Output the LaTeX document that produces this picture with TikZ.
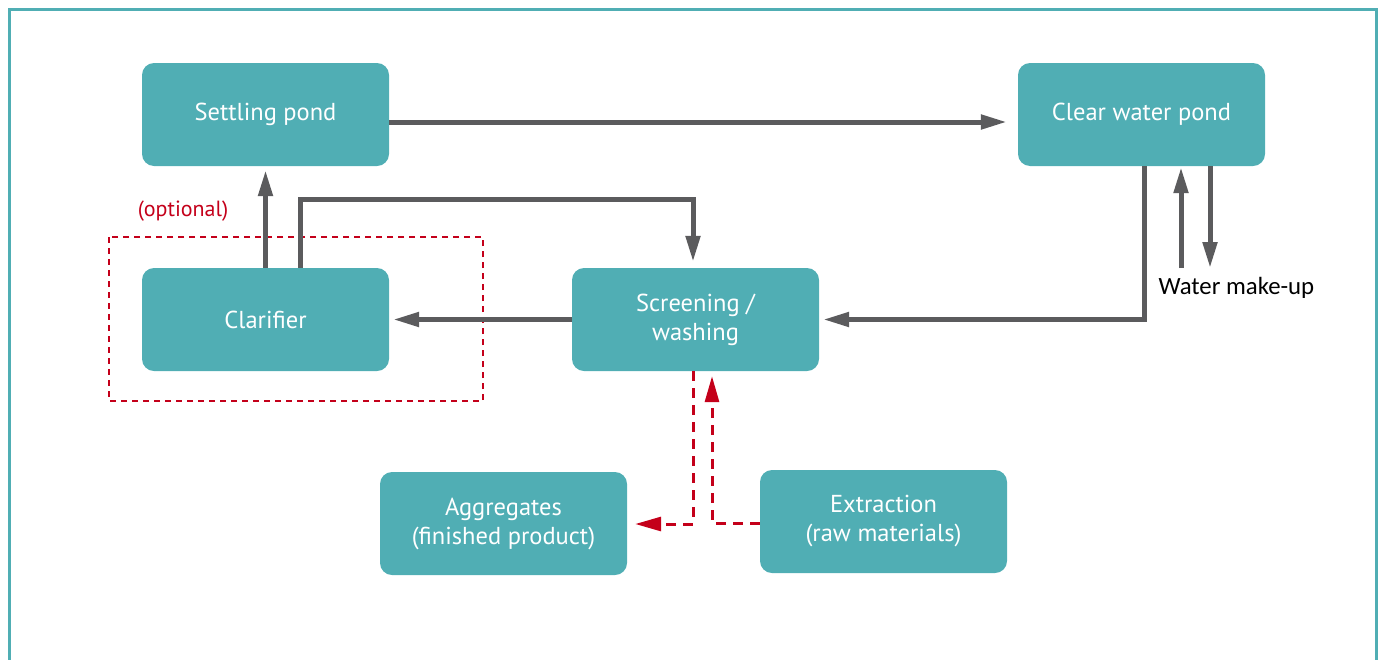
\documentclass[tikz,border=0pt]{standalone}
\usepackage{fontspec}
\setmainfont{PT Sans}
\newfontfamily\labelfont{Carlito}
\usetikzlibrary{arrows.meta,calc}
\definecolor{tealbox}{HTML}{50AEB4}
\definecolor{flowgray}{HTML}{5B5B5D}
\definecolor{optred}{HTML}{C4001A}
\tikzset{
  stage/.style={fill=tealbox, rounded corners=12pt, minimum width=247pt, minimum height=103pt,
    inner sep=0pt, text=white, align=center, font=\fontsize{24.5}{29}\selectfont},
  flow/.style={draw=flowgray, line width=5pt, -{Triangle[length=26pt,width=14pt]}},
  optflow/.style={draw=optred, line width=3pt, dash pattern=on 10pt off 7pt,
    -{Triangle[length=26pt,width=14pt]}},
}
\begin{document}
\begin{tikzpicture}[x=1pt,y=-1pt]
  \useasboundingbox (0,0) rectangle (1383,659);
  \clip (0,0) rectangle (1383,659);
  % outer frame, open at the bottom edge
  \draw[tealbox, line width=3pt] (9.5,700) -- (9.5,9.5) -- (1376.5,9.5) -- (1376.5,700);

  % process stages
  \node[stage] (sp) at (265.5,114.5) {Settling pond};
  \node[stage] (cw) at (1141.5,114.5) {Clear water pond};
  \node[stage] (cl) at (265.5,319.5) {Clarifier};
  \node[stage] (sw) at (695.5,319.5) {Screening /\\washing};
  \node[stage] (ag) at (503.5,523.5) {Aggregates\\(finished product)};
  \node[stage] (ex) at (883.5,521.5) {Extraction\\(raw materials)};

  % optional clarifier zone
  \draw[optred, line width=2pt, dash pattern=on 6pt off 5pt] (109,237) rectangle (483,401);
  \node[text=optred, font=\fontsize{22}{26}\selectfont] (opt) at (183,211) {(optional)};

  % water make-up
  \node[font=\labelfont\fontsize{24.8}{28}\selectfont, anchor=west] (wm) at (1155,288) {Water make-up};
  \coordinate (muin) at (1181,268);
  \coordinate (muout) at (1210,268);

  % water circuit
  \draw[flow, shorten >=11pt] ([yshift=-7.5pt]sp.east) -- ([yshift=-7.5pt]cw.west);
  \draw[flow, shorten >=4pt] (cl.north) -- (sp.south);
  \draw[flow, shorten >=6pt] ([xshift=34.5pt]cl.north) -- ++(0,-68) -| ([xshift=-2.5pt]sw.north);
  \draw[flow, shorten >=4pt] (sw.west) -- (cl.east);
  \draw[flow, shorten >=4pt] ([xshift=2.5pt]cw.south) |- (sw.east);
  \draw[flow, shorten >=1pt] (muin) -- ([xshift=39.5pt]cw.south);
  \draw[flow] ([xshift=68.5pt]cw.south) -- (muout);

  % material flow
  \draw[optflow, shorten >=8pt] ([xshift=-2.5pt]sw.south) |- ([yshift=-0.5pt]ag.east);
  \draw[optflow, shorten >=5pt] ([yshift=-1.5pt]ex.west) -| ([xshift=16.5pt]sw.south);
\end{tikzpicture}
\end{document}
